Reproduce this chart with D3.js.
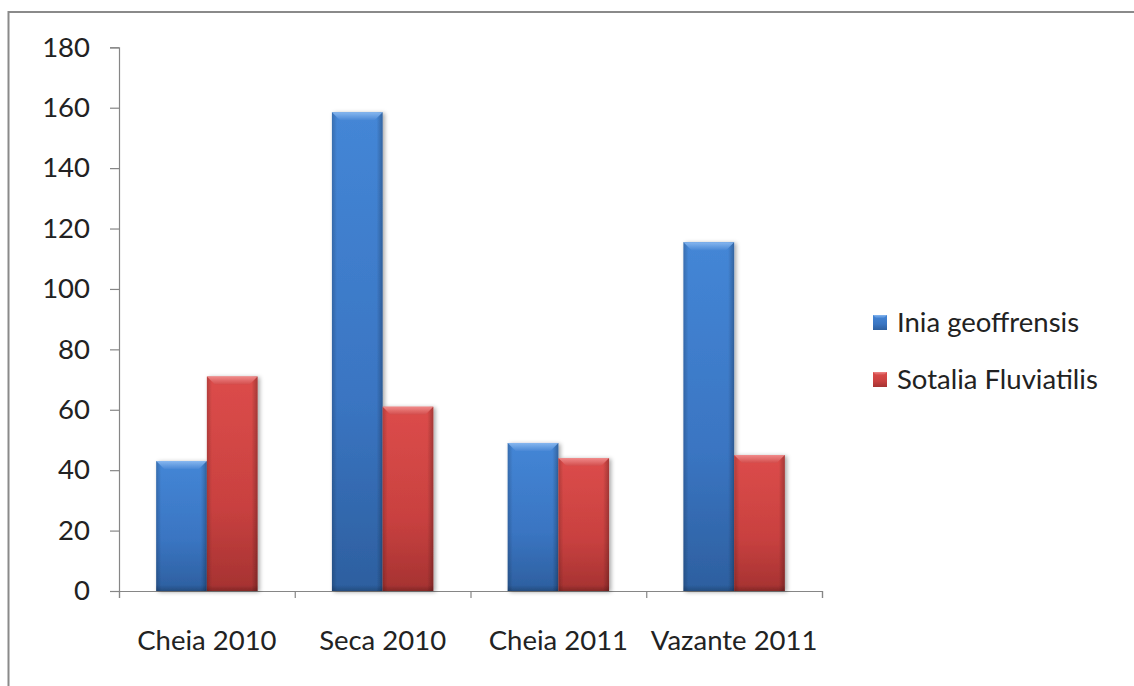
<!DOCTYPE html>
<html>
<head>
<meta charset="utf-8">
<script src="https://cdn.jsdelivr.net/npm/d3@7"></script>
<style>
  html, body { margin: 0; padding: 0; background: #fff; }
  svg { display: block; }
  text { font-family: Lato, "Open Sans", sans-serif; fill: #222; }
</style>
</head>
<body>
<svg id="chart" width="1134" height="686"></svg>
<script>
const categories = ["Cheia 2010", "Seca 2010", "Cheia 2011", "Vazante 2011"];
const seriesNames = ["Inia geoffrensis", "Sotalia Fluviatilis"];
const iniaValues = [43, 158.5, 49, 115.5];
const sotaliaValues = [71, 61, 44, 45];
const yTicks = [0, 20, 40, 60, 80, 100, 120, 140, 160, 180];

(function () {
const svg = d3.select("#chart");
const defs = svg.append("defs");
const FS = 27.5;

const grads = [
  {id: "g0", top: "#4486d6", mid: "#3a75c2", bot: "#2d5f9f"},
  {id: "g1", top: "#dc4c4a", mid: "#c94140", bot: "#a53231"}
];
grads.forEach(g => {
  const lg = defs.append("linearGradient").attr("id", g.id)
    .attr("x1", 0).attr("y1", 0).attr("x2", 0).attr("y2", 1);
  lg.append("stop").attr("offset", "0%").attr("stop-color", g.top);
  lg.append("stop").attr("offset", "60%").attr("stop-color", g.mid);
  lg.append("stop").attr("offset", "100%").attr("stop-color", g.bot);
});
const edge = defs.append("linearGradient").attr("id", "edge")
  .attr("x1", 0).attr("y1", 0).attr("x2", 1).attr("y2", 0);
edge.append("stop").attr("offset", "0%").attr("stop-color", "#000").attr("stop-opacity", 0.18);
edge.append("stop").attr("offset", "10%").attr("stop-color", "#000").attr("stop-opacity", 0);
edge.append("stop").attr("offset", "88%").attr("stop-color", "#000").attr("stop-opacity", 0);
edge.append("stop").attr("offset", "100%").attr("stop-color", "#000").attr("stop-opacity", 0.25);
const bottomEdge = defs.append("linearGradient").attr("id", "bedge")
  .attr("x1", 0).attr("y1", 0).attr("x2", 0).attr("y2", 1);
bottomEdge.append("stop").attr("offset", "0%").attr("stop-color", "#000").attr("stop-opacity", 0);
bottomEdge.append("stop").attr("offset", "100%").attr("stop-color", "#000").attr("stop-opacity", 0.2);
const bevelGrad = [["bv0", "#8dbcf2", "#4a88d6"], ["bv1", "#f29090", "#d24c4b"]];
bevelGrad.forEach(([id, a, b]) => {
  const lg = defs.append("linearGradient").attr("id", id)
    .attr("x1", 0).attr("y1", 0).attr("x2", 0).attr("y2", 1);
  lg.append("stop").attr("offset", "0%").attr("stop-color", a);
  lg.append("stop").attr("offset", "100%").attr("stop-color", b);
});

const shadow = defs.append("filter").attr("id", "shadow")
  .attr("x", "-20%").attr("y", "-5%").attr("width", "150%").attr("height", "115%");
shadow.append("feDropShadow").attr("dx", 2).attr("dy", 1).attr("stdDeviation", 2)
  .attr("flood-color", "#000").attr("flood-opacity", 0.35);

// frame (left and top)
svg.append("path")
  .attr("d", "M8.5,686 L8.5,12 L1134,12")
  .attr("fill", "none").attr("stroke", "#8a8a8a").attr("stroke-width", 2);

const plotLeft = 119, plotRight = 822, plotTop = 47.3, plotBottom = 591;

const y = d3.scaleLinear().domain([0, 180]).range([plotBottom, plotTop]);
const x0 = d3.scaleBand().domain(categories).range([plotLeft, plotRight])
  .paddingInner(0.423).paddingOuter(0.2115);
const x1 = d3.scaleBand().domain(seriesNames).range([0, x0.bandwidth()]);

// Y axis
const yAxis = svg.append("g").attr("transform", `translate(${plotLeft},0)`)
  .call(d3.axisLeft(y).tickValues(yTicks).tickSize(9).tickPadding(20));
yAxis.select(".domain").attr("stroke", "#868686").attr("stroke-width", 1.2);
yAxis.selectAll(".tick line").attr("stroke", "#868686").attr("stroke-width", 1.2);
yAxis.selectAll(".tick text").attr("font-size", FS).attr("font-family", "Lato, sans-serif").attr("fill", "#222");

// X axis
const xAxis = svg.append("g").attr("transform", `translate(0,${plotBottom})`)
  .call(d3.axisBottom(d3.scaleLinear().domain([0, 4]).range([plotLeft, plotRight]))
    .tickValues([0, 1, 2, 3, 4]).tickSize(7).tickFormat(""));
xAxis.select(".domain").attr("stroke", "#868686").attr("stroke-width", 1.2);
xAxis.selectAll(".tick line").attr("stroke", "#868686").attr("stroke-width", 1.2);

svg.append("g").selectAll("text").data(categories).join("text")
  .attr("x", d => x0(d) + x0.bandwidth() / 2)
  .attr("y", 650)
  .attr("text-anchor", "middle")
  .attr("font-size", FS)
  .text(d => d);

// bars
const data = categories.map((c, i) => ({cat: c, vals: [iniaValues[i], sotaliaValues[i]]}));
const groups = svg.append("g").selectAll("g").data(data).join("g")
  .attr("transform", d => `translate(${x0(d.cat)},0)`);

groups.each(function(d) {
  const g = d3.select(this);
  d.vals.forEach((v, si) => {
    const bx = x1(seriesNames[si]);
    const bw = x1.bandwidth();
    const by = y(v);
    const bh = y(0) - y(v);
    const bar = g.append("g").attr("filter", "url(#shadow)");
    bar.append("rect").attr("x", bx).attr("y", by).attr("width", bw).attr("height", bh)
      .attr("fill", `url(#g${si})`);
    bar.append("rect").attr("x", bx).attr("y", by).attr("width", bw).attr("height", bh)
      .attr("fill", "url(#edge)");
    const bev = 8;
    bar.append("polygon")
      .attr("points", `${bx},${by} ${bx + bw},${by} ${bx + bw - bev},${by + bev} ${bx + bev},${by + bev}`)
      .attr("fill", `url(#bv${si})`).attr("opacity", 0.9);
    bar.append("rect").attr("x", bx).attr("y", y(0) - 6).attr("width", bw).attr("height", 6)
      .attr("fill", "url(#bedge)");
  });
});

// legend
const legend = svg.append("g").selectAll("g").data(seriesNames).join("g")
  .attr("transform", (d, i) => `translate(873,${322 + i * 57})`);
legend.append("rect").attr("x", 0).attr("y", -7).attr("width", 14).attr("height", 15)
  .attr("fill", (d, i) => `url(#g${i})`);
legend.append("polygon").attr("points", "0,-7 14,-7 11,-4 3,-4")
  .attr("fill", (d, i) => `url(#bv${i})`).attr("opacity", 0.9);
legend.append("text").attr("x", 24).attr("y", 10).attr("font-size", FS).text(d => d);
})();
</script>
</body>
</html>
